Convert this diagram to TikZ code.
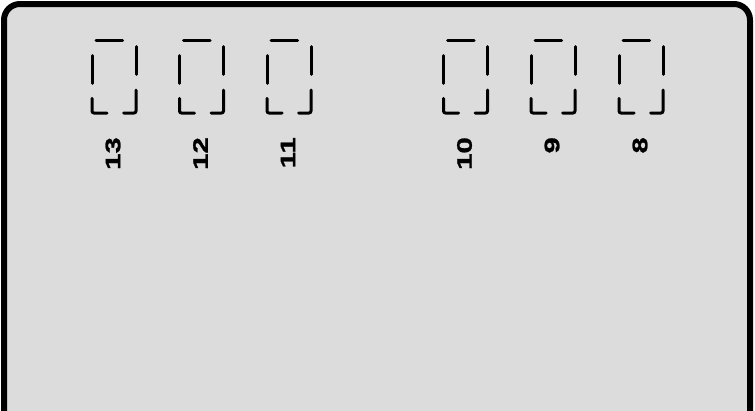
\documentclass[tikz,border=0pt]{standalone}
\usepackage{fontspec}
\newfontfamily\pinfont[FakeStretch=1.4, FakeBold=1.2]{Liberation Sans}
\definecolor{panel}{RGB}{220,220,220}
\begin{document}
\begin{tikzpicture}[x=1pt, y=-1pt, segment/.style={line width=3pt, line cap=round, line join=round, rounded corners=2pt}, pin label/.style={font=\pinfont\bfseries\fontsize{21}{21}\selectfont, rotate=90, anchor=east, inner sep=0pt}]
\useasboundingbox (0,0) rectangle (755,410);
\fill[white] (0,0) rectangle (755,410);
\draw[line width=6pt, fill=panel, rounded corners=16pt] (4,4) rectangle (750,460);
\foreach \x/\n in {92/13, 179.5/12, 267/11, 443.5/10, 531/9, 619/8} {
  \begin{scope}[shift={(\x,0)}]
    \draw[segment] (4,40.7) -- (30.6,40.7);
    \draw[segment] (0,55.7) -- (0,83.3);
    \draw[segment] (44,46.7) -- (44,74.3);
    \draw[segment] (0,98.3) -- (0,113) -- (15,113);
    \draw[segment] (31.6,113) -- (44,113) -- (44,90);
  \end{scope}
  \node[pin label] (pin\n) at (\x+21,137) {\n};
}
\end{tikzpicture}
\end{document}
